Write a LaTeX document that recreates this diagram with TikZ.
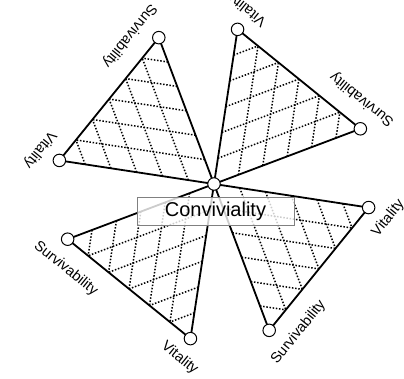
\documentclass[tikz,border=0pt]{standalone}
\usepackage{fontspec}
\setmainfont{Liberation Sans}
\usetikzlibrary{calc,backgrounds}

\begin{document}
\begin{tikzpicture}[x=1pt,y=1pt,
  dot/.style={circle,draw,fill=white,inner sep=0pt,minimum size=12.5pt,line width=1pt},
  side/.style={line width=1.8pt},
  hatch/.style={line width=1.5pt,dash pattern=on 1.5pt off 1.7pt},
  tag/.style={inner sep=0pt,font=\fontsize{14.5}{15}\selectfont},
  boxed/.style={draw=black!50,fill=white,fill opacity=0.8,text opacity=1,
    minimum width=157pt,minimum height=28pt,inner sep=0pt,
    font=\fontsize{20}{22}\selectfont}]
\useasboundingbox (0,0) rectangle (404,379);
\node[dot] (c) at (214,195) {};
% four triangles, each turned a quarter from the last
\foreach \r [count=\k] in {51,141,231,321} {
  \begin{scope}[shift={(214,195)},rotate=\r]
    \node[dot] (s\k) at (-79,-135) {};
    \node[dot] (v\k) at (79,-135) {};
    \node[tag,rotate=\r] (ls\k) at (-62,-159) {Survivability};
    \node[tag,rotate=\r] (lv\k) at (83,-157) {Vitality};
  \end{scope}
  \begin{scope}[on background layer]
    \foreach \t in {1,...,5} {
      \draw[hatch] ($(c.center)!{\t/6}!(v\k.center)$) -- ($(s\k.center)!{\t/6}!(v\k.center)$);
      \draw[hatch] ($(c.center)!{\t/6}!(s\k.center)$) -- ($(v\k.center)!{\t/6}!(s\k.center)$);
    }
    \draw[side] (c.center) -- (s\k.center) -- (v\k.center) -- cycle;
  \end{scope}
}
\node[boxed] (conv) at (215.5,167.5) {Conviviality};
\end{tikzpicture}
\end{document}
